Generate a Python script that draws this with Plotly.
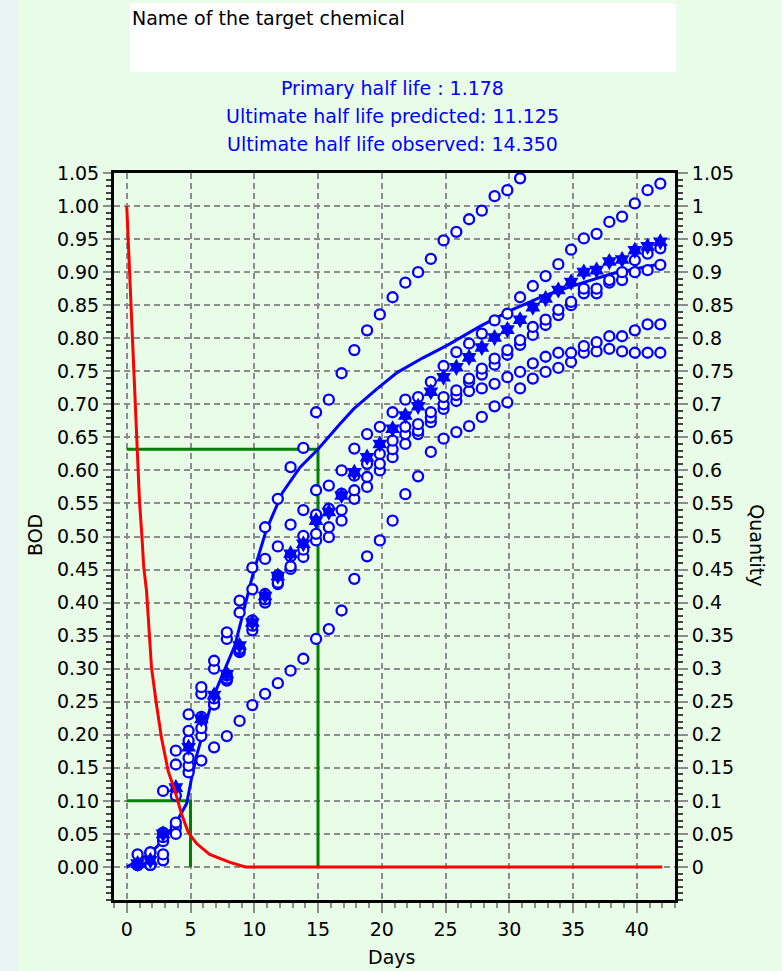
import plotly.graph_objects as go

# ---------------- data ----------------
days = [0.85, 1.85, 2.85, 3.85, 4.85, 5.85, 6.85, 7.85, 8.85, 9.85,
        10.85, 11.85, 12.85, 13.85, 14.85, 15.85, 16.85, 17.85, 18.85, 19.85,
        20.85, 21.85, 22.85, 23.85, 24.85, 25.85, 26.85, 27.85, 28.85, 29.85,
        30.85, 31.85, 32.85, 33.85, 34.85, 35.85, 36.85, 37.85, 38.85, 39.85,
        40.85, 41.85]

bod_a = [0.019, 0.022, 0.115, 0.176, 0.231, 0.272, 0.312, 0.355, 0.403, 0.453,
         0.514, 0.557, 0.605, 0.634, 0.688, 0.707, 0.747, 0.782, 0.812, 0.836,
         0.862, 0.884, 0.900, 0.920, 0.948, 0.961, 0.980, 0.993, 1.015, 1.024,
         1.042]
bod_b = [0.003, 0.022, 0.052, 0.155, 0.206, 0.262, 0.300, 0.345, 0.385, 0.420,
         0.466, 0.485, 0.518, 0.540, 0.570, 0.577, 0.600, 0.633, 0.655, 0.666,
         0.688, 0.707, 0.711, 0.734, 0.758, 0.779, 0.792, 0.807, 0.827, 0.837,
         0.862, 0.879, 0.894, 0.912, 0.934, 0.951, 0.958, 0.976, 0.984, 1.004,
         1.024, 1.034]
bod_c = [0.003, 0.003, 0.045, 0.108, 0.191, 0.210, 0.255, 0.290, 0.330, 0.373,
         0.413, 0.441, 0.470, 0.501, 0.533, 0.542, 0.565, 0.592, 0.610, 0.625,
         0.645, 0.666, 0.670, 0.688, 0.711, 0.721, 0.739, 0.754, 0.769, 0.782,
         0.797, 0.817, 0.828, 0.843, 0.855, 0.875, 0.875, 0.888, 0.900, 0.918,
         0.928, 0.936]
bod_c2 = [0.003, 0.003, 0.039, 0.067, 0.165, 0.227, 0.246, 0.285, 0.328, 0.365,
          0.405, 0.430, 0.455, 0.480, 0.504, 0.514, 0.540, 0.570, 0.590, 0.610,
          0.632, 0.655, 0.660, 0.680, 0.700, 0.714, 0.734, 0.745, 0.760, 0.775,
          0.790, 0.805, 0.820, 0.835, 0.850, 0.868, 0.868, 0.884, 0.888, 0.900,
          0.903, 0.911]
bod_d = [0.003, 0.003, 0.019, 0.050, 0.153, 0.198, 0.246, 0.282, 0.325, 0.358,
         0.400, 0.428, 0.451, 0.469, 0.494, 0.499, 0.524, 0.557, 0.575, 0.600,
         0.620, 0.640, 0.655, 0.673, 0.693, 0.705, 0.720, 0.724, 0.731, 0.741,
         0.749, 0.762, 0.772, 0.778, 0.778, 0.788, 0.794, 0.803, 0.803, 0.812,
         0.821, 0.821]
bod_e = [0.003, 0.003, 0.010, 0.060, 0.143, 0.161, 0.181, 0.198, 0.221, 0.245,
         0.262, 0.278, 0.297, 0.315, 0.345, 0.360, 0.388, 0.436, 0.470, 0.494,
         0.524, 0.564, 0.591, 0.628, 0.648, 0.658, 0.667, 0.681, 0.697, 0.703,
         0.724, 0.739, 0.749, 0.755, 0.764, 0.778, 0.780, 0.784, 0.780, 0.778,
         0.778, 0.778]
bod_mean = [0.005, 0.010, 0.050, 0.120, 0.181, 0.224, 0.260, 0.292, 0.335, 0.370,
            0.410, 0.440, 0.474, 0.489, 0.524, 0.537, 0.562, 0.597, 0.620, 0.640,
            0.663, 0.683, 0.697, 0.719, 0.741, 0.756, 0.771, 0.786, 0.801, 0.813,
            0.828, 0.847, 0.860, 0.873, 0.885, 0.900, 0.903, 0.916, 0.919, 0.933,
            0.939, 0.946]

fit_days = [0, 1.8, 2.85, 3.9, 4.7, 5.1, 5.5, 5.9, 6.3, 6.8, 7.45, 8.0, 8.5,
            9.2, 9.9, 10.95, 12.2, 13.6, 15.0, 16.7, 17.8, 19.6, 21.2, 23.2,
            25.2, 27.7, 30.2, 32.7, 35.1, 38.1, 42.0]
fit_bod = [0.0, 0.02, 0.04, 0.068, 0.096, 0.136, 0.17, 0.197, 0.227, 0.258,
           0.288, 0.313, 0.336, 0.39, 0.443, 0.51, 0.566, 0.605, 0.632, 0.67,
           0.693, 0.723, 0.748, 0.77, 0.79, 0.818, 0.843, 0.864, 0.88, 0.898,
           0.913]

parent_days = [0, 0.17, 0.33, 0.5, 0.67, 0.83, 1.0, 1.18, 1.33, 1.55, 1.8, 1.94,
               2.33, 2.72, 3.25, 3.78, 4.3, 4.83, 5.5, 6.5, 8.1, 9.3, 42.0]
parent_qty = [1.0, 0.924, 0.85, 0.777, 0.70, 0.632, 0.553, 0.503, 0.454, 0.418,
              0.342, 0.302, 0.246, 0.196, 0.145, 0.115, 0.08, 0.052, 0.035,
              0.019, 0.007, 0.0, 0.0]

guide1_x = [0, 5, 5]
guide1_y = [0.10, 0.10, 0.0]
guide2_x = [0, 15, 15]
guide2_y = [0.632, 0.632, 0.0]

x_ticks = [0, 5, 10, 15, 20, 25, 30, 35, 40]
bod_ticks = [0.00, 0.05, 0.10, 0.15, 0.20, 0.25, 0.30, 0.35, 0.40, 0.45, 0.50,
             0.55, 0.60, 0.65, 0.70, 0.75, 0.80, 0.85, 0.90, 0.95, 1.00, 1.05]
bod_labels = ["0.00", "0.05", "0.10", "0.15", "0.20", "0.25", "0.30", "0.35",
              "0.40", "0.45", "0.50", "0.55", "0.60", "0.65", "0.70", "0.75",
              "0.80", "0.85", "0.90", "0.95", "1.00", "1.05"]
qty_labels = ["0", "0.05", "0.1", "0.15", "0.2", "0.25", "0.3", "0.35", "0.4",
              "0.45", "0.5", "0.55", "0.6", "0.65", "0.7", "0.75", "0.8", "0.85",
              "0.9", "0.95", "1", "1.05"]

chem_name = "Name of the target chemical"
info_lines = ["Primary half life : 1.178",
              "Ultimate half life predicted: 11.125",
              "Ultimate half life observed: 14.350"]

# ---------------- styles ----------------
FONT = "DejaVu Sans"
FS = 19
BG = "#E8FCE8"
BLUE = "#0000FF"
GRID = "#8C8C8C"

fig = go.Figure()

for gx, gy in [(guide1_x, guide1_y), (guide2_x, guide2_y)]:
    fig.add_trace(go.Scatter(x=gx, y=gy, mode="lines",
                             line=dict(color="#008000", width=3),
                             hoverinfo="skip"))

fig.add_trace(go.Scatter(x=fit_days, y=fit_bod, mode="lines",
                         line=dict(color=BLUE, width=3)))

open_marker = dict(symbol="circle", size=10, color="white",
                   line=dict(color=BLUE, width=2.3))
for series in [bod_e, bod_d, bod_c2, bod_c, bod_b, bod_a]:
    fig.add_trace(go.Scatter(x=days[:len(series)], y=series, mode="markers",
                             marker=open_marker))

fig.add_trace(go.Scatter(x=days, y=bod_mean, mode="markers",
                         marker=dict(symbol="hexagram", size=13, color=BLUE,
                                     line=dict(width=0))))

fig.add_trace(go.Scatter(x=parent_days, y=parent_qty, mode="lines",
                         line=dict(color="#FF0000", width=3), yaxis="y2"))

axis_common = dict(showline=True, linecolor="black", linewidth=3,
                   ticks="outside", tickcolor=GRID, tickwidth=1.5,
                   tickfont=dict(family=FONT, size=FS, color="black"),
                   zeroline=False)

fig.update_layout(
    width=782, height=971,
    margin=dict(l=114, r=107, t=173, b=71),
    paper_bgcolor=BG, plot_bgcolor=BG,
    showlegend=False,
    font=dict(family=FONT, size=FS, color="black"),
    xaxis=dict(range=[-1, 43], tickvals=x_ticks, ticklen=10,
               showgrid=True, gridcolor=GRID, gridwidth=1.5, griddash="6px,4px",
               mirror=True,
               minor=dict(dtick=1, tick0=0, ticklen=5, tickcolor=GRID,
                          ticks="outside", showgrid=False),
               **axis_common),
    yaxis=dict(range=[-0.05, 1.05], tickvals=bod_ticks, ticktext=bod_labels,
               ticklen=8, showgrid=True, gridcolor=GRID, gridwidth=1.5,
               griddash="6px,4px",
               minor=dict(dtick=0.01, tick0=0, ticklen=5, tickcolor="#444444",
                          ticks="outside", showgrid=False),
               **axis_common),
    yaxis2=dict(range=[-0.05, 1.05], overlaying="y", side="right",
                tickvals=bod_ticks, ticktext=qty_labels, ticklen=10,
                showgrid=False,
                minor=dict(dtick=0.01, tick0=0, ticklen=5, tickcolor="#444444",
                           ticks="outside", showgrid=False),
                **axis_common),
)

# left light strip and title box
fig.add_shape(type="rect", xref="paper", yref="paper",
              x0=-0.2032, x1=-0.172, y0=-0.1, y1=1.24,
              fillcolor="#EAF3F3", line=dict(width=0), layer="below")
fig.add_shape(type="rect", xref="paper", yref="paper",
              x0=0.0285, x1=1.0018, y0=1.1389, y1=1.2338,
              fillcolor="white", line=dict(width=0), layer="below")

fig.add_annotation(text=chem_name, xref="paper", yref="paper",
                   x=0.0285, y=1.2132, xanchor="left", yanchor="middle",
                   showarrow=False, font=dict(family=FONT, size=FS, color="black"))
for txt, yy in zip(info_lines, [1.1169, 1.0784, 1.0399]):
    fig.add_annotation(text=txt, xref="paper", yref="paper",
                       x=0.4973, y=yy, xanchor="center", yanchor="middle",
                       showarrow=False, font=dict(family=FONT, size=FS, color=BLUE))

fig.add_annotation(text="BOD", xref="paper", yref="paper", x=-0.1408, y=0.502,
                   textangle=-90, showarrow=False, xanchor="center", yanchor="middle",
                   font=dict(family=FONT, size=FS, color="black"))
fig.add_annotation(text="Quantity", xref="paper", yref="paper", x=1.146, y=0.488,
                   textangle=90, showarrow=False, xanchor="center", yanchor="middle",
                   font=dict(family=FONT, size=FS, color="black"))
fig.add_annotation(text="Days", xref="paper", yref="paper", x=0.4938, y=-0.0784,
                   showarrow=False, xanchor="center", yanchor="middle",
                   font=dict(family=FONT, size=FS, color="black"))

fig.write_html("out.html", config={"displayModeBar": False},
               post_script="document.body.style.margin='0px';")
